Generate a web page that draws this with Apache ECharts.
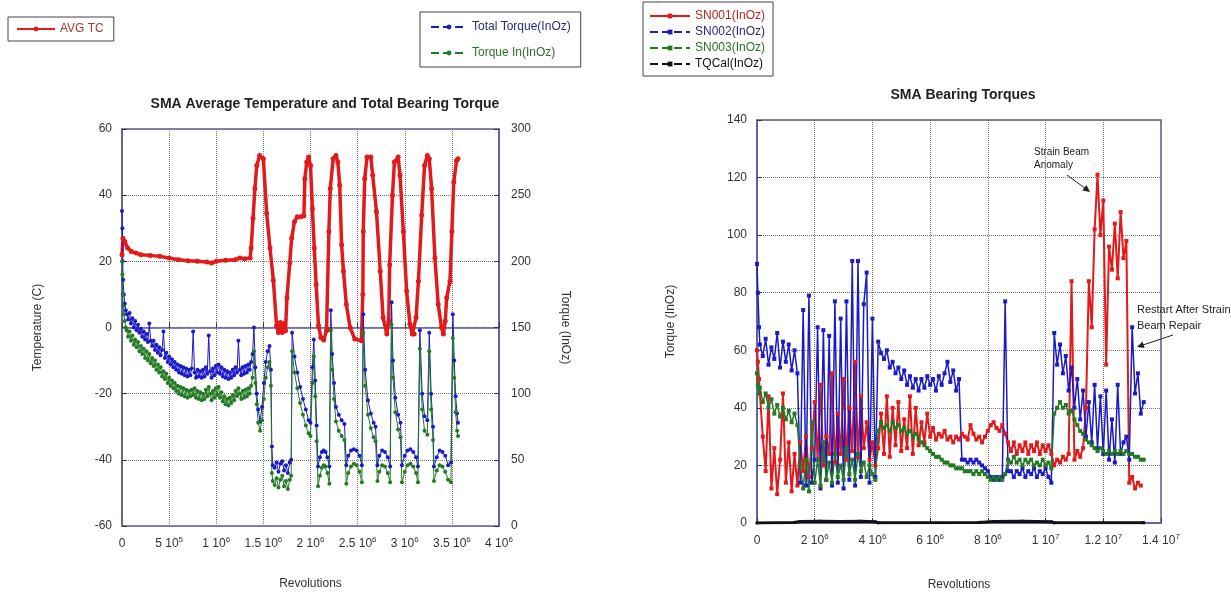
<!DOCTYPE html>
<html>
<head>
<meta charset="utf-8">
<title>SMA Torques</title>
<script src="https://cdn.jsdelivr.net/npm/echarts@6/dist/echarts.min.js"></script>
<style>
  html, body { margin: 0; background: #fff; }
  #chart { width: 1231px; height: 596px; }
</style>
</head>
<body>
<div id="chart"></div>
<script>
// ---- left chart: average temperature (C), x in millions of revolutions
const avgTcX = [0, 0.01, 0.03, 0.06, 0.1, 0.15, 0.2, 0.3, 0.4, 0.5, 0.6, 0.7, 0.8, 0.9, 0.95, 1.0, 1.1, 1.2, 1.25, 1.3,
  1.36, 1.37, 1.39, 1.41, 1.43, 1.46, 1.5, 1.535, 1.57, 1.606, 1.64, 1.66, 1.68, 1.7, 1.72, 1.735, 1.75, 1.78, 1.8, 1.83,
  1.86, 1.9, 1.93, 1.94, 1.96, 1.98, 2.0, 2.02, 2.04, 2.06, 2.085, 2.11, 2.14, 2.17, 2.19, 2.195, 2.21, 2.24, 2.27, 2.29,
  2.31, 2.33, 2.35, 2.38, 2.42, 2.47, 2.54, 2.555, 2.56, 2.575, 2.6, 2.64, 2.66, 2.7, 2.74, 2.77, 2.81, 2.83, 2.84, 2.87,
  2.89, 2.93, 2.95, 2.985, 3.02, 3.055, 3.08, 3.1, 3.12, 3.145, 3.18, 3.21, 3.24, 3.26, 3.285, 3.32, 3.355, 3.39, 3.41, 3.43,
  3.445, 3.48, 3.5, 3.52, 3.55, 3.565];
const avgTc = [22, 27, 26, 24, 23, 22.5, 22, 21.8, 21.5, 21, 20.5, 20.2, 20, 19.8, 19.5, 20, 20.3, 20.5, 21, 20.8,
  21, 24, 33, 42, 49, 52, 51, 34.5, 24, 14.3, 0.5, -1.5, 1.5, -1.5, 1.2, -1, 9, 19.5, 27, 32,
  33.5, 33.5, 33.8, 45, 50, 51.5, 49, 36, 24, 13, 0.5, -3, -3.8, -1, -0.5, 29, 42, 51, 52, 50,
  43, 25, 17, 7, 0, -3.5, -4, 10, 29, 45, 51.5, 51.5, 46, 35, 17, 3, -2, 2, 19, 40,
  50, 51.5, 46, 29, 11, 1, -2, -2, 3, 14, 34, 49, 52, 51, 42, 21, 7, 0, -2, 2,
  9, 14, 29, 44, 50.5, 51];

// ---- left chart: torques (InOz), shared x positions
const torqueX = [0, 0.004, 0.008, 0.012, 0.02, 0.03, 0.04, 0.05, 0.065, 0.08,
  0.095, 0.11, 0.125, 0.14, 0.155, 0.17, 0.185, 0.2, 0.215, 0.23,
  0.245, 0.26, 0.275, 0.29, 0.305, 0.32, 0.335, 0.35, 0.365, 0.38,
  0.395, 0.41, 0.425, 0.44, 0.455, 0.47, 0.485, 0.5, 0.515, 0.53,
  0.545, 0.56, 0.575, 0.59, 0.605, 0.62, 0.635, 0.65, 0.665, 0.68,
  0.695, 0.71, 0.725, 0.74, 0.755, 0.77, 0.785, 0.8, 0.815, 0.83,
  0.845, 0.86, 0.875, 0.89, 0.905, 0.92, 0.935, 0.95, 0.965, 0.98,
  0.995, 1.01, 1.025, 1.04, 1.055, 1.07, 1.085, 1.1, 1.115, 1.13,
  1.145, 1.16, 1.175, 1.19, 1.205, 1.22, 1.235, 1.25, 1.265, 1.28,
  1.295, 1.31, 1.325, 1.34, 1.355, 1.37, 1.385, 1.4, 1.415, 1.43,
  1.445, 1.465, 1.485, 1.505, 1.525, 1.545, 1.565, 1.58, 1.59, 1.6,
  1.62, 1.64, 1.66, 1.68, 1.7, 1.72, 1.74, 1.76, 1.78, 1.795,
  1.805, 1.83, 1.86, 1.89, 1.92, 1.95, 1.98, 2.0, 2.02, 2.035,
  2.05, 2.065, 2.08, 2.1, 2.12, 2.14, 2.16, 2.18, 2.2, 2.215,
  2.23, 2.25, 2.27, 2.3, 2.33, 2.36, 2.38, 2.4, 2.43, 2.46,
  2.49, 2.52, 2.545, 2.56, 2.58, 2.61, 2.64, 2.67, 2.69, 2.71,
  2.73, 2.76, 2.79, 2.82, 2.845, 2.86, 2.875, 2.9, 2.93, 2.955,
  2.97, 3.0, 3.03, 3.06, 3.09, 3.12, 3.14, 3.16, 3.185, 3.21,
  3.24, 3.26, 3.28, 3.3, 3.31, 3.34, 3.37, 3.4, 3.43, 3.46,
  3.49, 3.51, 3.525, 3.54, 3.555, 3.565];
const totalTorque = [238, 225, 200, 186, 175, 168, 163, 160, 156, 161,
  153, 157, 150, 155, 148, 152, 146, 149, 143, 147,
  141, 145, 139, 153, 140, 136, 140, 133, 137, 131,
  135, 129, 133, 147, 127, 131, 124, 128, 122, 126,
  120, 124, 118, 122, 116, 121, 115, 120, 114, 119,
  113, 118, 114, 119, 147, 116, 112, 118, 113, 117,
  112, 118, 113, 120, 115, 144, 117, 112, 119, 114,
  121, 116, 122, 115, 120, 113, 118, 112, 117, 111,
  116, 112, 118, 114, 120, 116, 140, 118, 114, 120,
  115, 121, 116, 122, 118, 124, 130, 150, 120, 100,
  88, 79, 90, 108, 124, 132, 136, 118, 60, 46,
  44, 48, 41, 47, 49, 42, 46, 40, 48, 50,
  146, 128, 116, 105, 96, 88, 80, 78, 120, 141,
  110, 76, 45, 52, 56, 57, 56, 52, 45, 163,
  130, 108, 90, 84, 80, 77, 46, 53, 57, 58,
  57, 53, 46, 160, 118, 95, 85, 78, 75, 46,
  53, 57, 56, 52, 45, 169, 125, 97, 84, 78,
  46, 53, 57, 58, 56, 52, 45, 148, 100, 83,
  80, 146, 100, 75, 45, 52, 57, 56, 53, 46,
  48, 160, 125, 98, 85, 78];
const torqueIn = [200, 190, 175, 166, 160, 155, 150, 148, 143, 147,
  140, 144, 137, 141, 135, 139, 132, 136, 130, 134,
  127, 132, 125, 130, 123, 127, 121, 125, 118, 122,
  116, 120, 113, 117, 111, 115, 108, 112, 106, 110,
  104, 108, 102, 106, 100, 105, 99, 104, 98, 103,
  97, 102, 98, 103, 99, 104, 97, 102, 96, 101,
  95, 100, 96, 103, 98, 105, 100, 95, 102, 97,
  104, 99, 105, 97, 101, 94, 98, 92, 96, 91,
  97, 93, 99, 95, 102, 98, 104, 100, 96, 102,
  97, 103, 98, 104, 100, 106, 112, 132, 108, 92,
  78, 72, 80, 96, 112, 120, 124, 106, 40, 34,
  31, 36, 29, 35, 38, 30, 34, 28, 35, 38,
  132, 116, 104, 93, 84, 76, 70, 68, 108, 128,
  98, 64, 30, 38, 44, 46, 45, 40, 32, 148,
  118, 96, 79, 72, 68, 65, 32, 40, 45, 47,
  46, 41, 33, 146, 106, 84, 74, 67, 64, 34,
  41, 46, 45, 40, 33, 152, 112, 86, 73, 67,
  33, 41, 46, 47, 45, 40, 33, 134, 88, 72,
  69, 132, 88, 65, 34, 42, 46, 45, 41, 35,
  33, 142, 112, 86, 72, 68];

// ---- right chart: bearing torques (InOz), x in millions of revolutions
const rightX = [0, 0.03, 0.07, 0.1, 0.2, 0.3, 0.4, 0.5, 0.6, 0.7, 0.8, 0.9,
  1.0, 1.1, 1.2, 1.3, 1.4, 1.5, 1.6, 1.7, 1.8, 1.9,
  2.0, 2.1, 2.2, 2.3, 2.4, 2.5, 2.6, 2.7, 2.8, 2.9,
  3.0, 3.1, 3.2, 3.3, 3.4, 3.5, 3.6, 3.7, 3.8, 3.9,
  4.0, 4.1, 4.2, 4.3, 4.4, 4.5, 4.6, 4.7, 4.8, 4.9,
  5.0, 5.1, 5.2, 5.3, 5.4, 5.5, 5.6, 5.7, 5.8, 5.9,
  6.0, 6.1, 6.2, 6.3, 6.4, 6.5, 6.6, 6.7, 6.8, 6.9,
  7.0, 7.1, 7.2, 7.3, 7.4, 7.5, 7.6, 7.7, 7.8, 7.9,
  8.0, 8.1, 8.2, 8.3, 8.4, 8.5, 8.6, 8.7, 8.8, 8.9,
  9.0, 9.1, 9.2, 9.3, 9.4, 9.5, 9.6, 9.7, 9.8, 9.9,
  10.0, 10.1, 10.2, 10.3, 10.4, 10.5, 10.6, 10.7, 10.8, 10.9,
  11.0, 11.1, 11.2, 11.3, 11.4, 11.5, 11.6, 11.7, 11.8, 11.9,
  12.0, 12.1, 12.2, 12.3, 12.4, 12.5, 12.6, 12.7, 12.8, 12.9,
  13.0, 13.1, 13.2, 13.3, 13.4];
const sn001 = [60, 56, 50, 45, 30, 18, 44, 12, 26, 10, 22, 45,
  14, 28, 11, 24, 13, 28, 18, 30, 16, 26,
  42, 22, 48, 20, 30, 24, 52, 21, 38, 24,
  50, 22, 40, 25, 56, 23, 44, 26, 35, 22,
  28, 20, 26, 38, 24, 44, 23, 40, 27, 42,
  25, 36, 26, 44, 24, 40, 27, 35, 28, 38,
  30, 33, 29, 31, 30, 32, 29, 30, 28, 30,
  29, 31, 30, 29, 34, 31, 29, 30, 28, 30,
  32, 34, 35, 33, 32, 34, 31, 28, 25, 28,
  24, 27, 25, 28, 24, 27, 25, 28, 24, 27,
  25, 27, 24, 20, 22, 21, 23, 22, 24, 84,
  22, 25, 23, 26, 40, 84, 68, 102, 121, 100,
  112, 55, 96, 88, 104, 85, 108, 92, 98, 14,
  16, 12, 14, 13, null];
const sn002 = [90, 80, 68, 62, 58, 64, 55, 61, 57, 66, 54, 63,
  56, 62, 53, 60, 52, 14, 74, 13, 79, 14,
  22, 68, 12, 67, 15, 65, 13, 77, 14, 71,
  12, 77, 15, 91, 13, 91, 16, 76, 87, 14,
  71, 16, 63, 59, 57, 60, 54, 56, 52, 54,
  50, 53, 48, 51, 47, 50, 46, 50, 47, 51,
  48, 50, 46, 51, 48, 52, 56, 49, 53, 46,
  50, 22, 22, 21, 22, 21, 22, 21, 20, 19,
  18, 16, 15, 16, 15, 16, 77, 18, 18, 16,
  18, 17, 19, 16, 18, 17, 19, 16, 18, 17,
  19, 16, 14, 66, 55, 62, 52, 58, 46, 54,
  40, 50, 36, 46, 30, 42, 28, 48, 26, 44,
  24, 46, 22, 36, 21, 48, 24, 28, 30, 22,
  68, 45, 52, 38, 42];
const sn003 = [52, 48, 45, 47, 42, 45, 40, 43, 38, 41, 37, 40,
  36, 39, 35, 38, 34, 20, 12, 22, 11, 35,
  14, 22, 13, 28, 15, 21, 14, 24, 16, 20,
  15, 26, 17, 22, 15, 24, 18, 21, 16, 20,
  17, 15, 32, 35, 33, 34, 32, 35, 33, 34,
  32, 33, 31, 32, 30, 31, 29, 28, 27, 26,
  25, 24, 23, 23, 22, 21, 21, 20, 20, 19,
  19, 19, 18, 18, 18, 17, 18, 17, 18, 17,
  16, 15, 16, 15, 16, 15, 17, 22, 21, 23,
  21, 22, 20, 22, 21, 22, 20, 21, 20, 22,
  20, 21, 19, 38, 40, 42, 40, 41, 38, 39,
  36, 34, 32, 31, 29, 28, 27, 26, 25, 26,
  25, 24, 25, 24, 25, 24, 25, 24, 25, 24,
  24, 23, 23, 22, 22];
const tqCalX = [0, 1.3, 1.5, 2.2, 2.9, 3.6, 4.1, 4.2, 7.7, 8.2, 9.2, 10.2, 10.3, 13.4];
const tqCal = [0, 0.2, 0.5, 0.6, 0.5, 0.6, 0.4, 0.1, 0.2, 0.5, 0.6, 0.4, 0.1, 0.1];

// tick labels: mantissa|exponent
const leftXTicks = ['0', '5 10|5', '1 10|6', '1.5 10|6', '2 10|6', '2.5 10|6', '3 10|6', '3.5 10|6', '4 10|6'];
const rightXTicks = ['0', '2 10|6', '4 10|6', '6 10|6', '8 10|6', '1 10|7', '1.2 10|7', '1.4 10|7'];

const FONT = '"Liberation Sans", Arial, sans-serif';
const RED = '#e31a1a', BLUE = '#1a1ac8', GREEN = '#237a23';
const FRAME = '#5b5b9e';

function zip(xs, ys) {
  return xs.map((x, i) => [x, ys[i]]);
}

function sciFormatter(ticks, step) {
  return function (value) {
    const t = ticks[Math.round(value / step)] || '';
    const parts = t.split('|');
    if (parts.length < 2) return '{m|' + t + '}';
    return '{m|' + parts[0] + '}{e|' + parts[1] + '}';
  };
}

const sciRich = {
  m: { fontSize: 12, color: '#333', fontFamily: FONT, lineHeight: 16 },
  e: { fontSize: 8, color: '#333', fontFamily: FONT, verticalAlign: 'top', lineHeight: 8 }
};

const dotted = { show: true, lineStyle: { color: '#777', type: 'dotted', width: 1 } };
const tickIn = { show: true, inside: true, length: 5, lineStyle: { color: '#333' } };
const labelStyle = { color: '#333', fontSize: 12, fontFamily: FONT };
const nameStyle = { color: '#333', fontSize: 12, fontFamily: FONT };

const chart = echarts.init(document.getElementById('chart'));

chart.setOption({
  animation: false,
  textStyle: { fontFamily: FONT },
  title: [
    {
      text: 'SMA Average Temperature and Total Bearing Torque',
      left: 320, top: 92, textAlign: 'center',
      textStyle: { fontSize: 14, fontWeight: 'bold', color: '#222', fontFamily: FONT }
    },
    {
      text: 'SMA Bearing Torques',
      left: 958, top: 83, textAlign: 'center',
      textStyle: { fontSize: 14, fontWeight: 'bold', color: '#222', fontFamily: FONT }
    }
  ],
  legend: [
    {
      data: [{ name: 'AVG TC', textStyle: { color: '#b03434' } }],
      left: 8, top: 17, orient: 'vertical',
      borderColor: '#444', borderWidth: 1, padding: [6, 10, 6, 8],
      itemWidth: 38, itemHeight: 6, selectedMode: false,
      textStyle: { fontSize: 12, fontFamily: FONT }
    },
    {
      data: [
        { name: 'Total Torque(InOz)', textStyle: { color: '#2a2a7c' }, lineStyle: { type: 'dashed' } },
        { name: 'Torque In(InOz)', textStyle: { color: '#2f6f2f' }, lineStyle: { type: 'dashed' } }
      ],
      left: 420, top: 12, orient: 'vertical', itemGap: 14,
      borderColor: '#444', borderWidth: 1, padding: [9, 10, 8, 10],
      itemWidth: 36, itemHeight: 6, selectedMode: false,
      textStyle: { fontSize: 12, fontFamily: FONT }
    },
    {
      data: [
        { name: 'SN001(InOz)', textStyle: { color: '#b82424' } },
        { name: 'SN002(InOz)', textStyle: { color: '#2a2a7c' }, lineStyle: { type: 'dashed' } },
        { name: 'SN003(InOz)', textStyle: { color: '#2a702a' }, lineStyle: { type: 'dashed' } },
        { name: 'TQCal(InOz)', textStyle: { color: '#111' }, lineStyle: { type: 'dashed' } }
      ],
      left: 643, top: 2, orient: 'vertical', itemGap: 4,
      borderColor: '#444', borderWidth: 1, padding: [8, 8, 6, 6],
      itemWidth: 40, itemHeight: 6, selectedMode: false,
      textStyle: { fontSize: 12, fontFamily: FONT }
    }
  ],
  grid: [
    { left: 122, top: 129, width: 377, height: 397, show: true, borderColor: FRAME, borderWidth: 1.5 },
    { left: 757, top: 120, width: 404, height: 403, show: true, borderColor: FRAME, borderWidth: 1.5 }
  ],
  xAxis: [
    {
      gridIndex: 0, type: 'value', min: 0, max: 4, interval: 0.5,
      name: 'Revolutions', nameLocation: 'middle', nameGap: 52, nameTextStyle: nameStyle,
      axisLine: { show: true, lineStyle: { color: FRAME, width: 1.5 } },
      axisTick: tickIn, splitLine: dotted,
      axisLabel: { margin: 10, formatter: sciFormatter(leftXTicks, 0.5), rich: sciRich }
    },
    {
      gridIndex: 1, type: 'value', min: 0, max: 14, interval: 2,
      name: 'Revolutions', nameLocation: 'middle', nameGap: 56, nameTextStyle: nameStyle,
      axisLine: { show: true, lineStyle: { color: FRAME, width: 1.5 } },
      axisTick: tickIn, splitLine: dotted,
      axisLabel: { margin: 10, formatter: sciFormatter(rightXTicks, 2), rich: sciRich }
    }
  ],
  yAxis: [
    {
      gridIndex: 0, type: 'value', min: -60, max: 60, interval: 20, position: 'left',
      name: 'Temperature (C)', nameLocation: 'middle', nameGap: 78, nameRotate: 90, nameTextStyle: nameStyle,
      axisLine: { show: true, lineStyle: { color: FRAME, width: 1.5 } },
      axisTick: tickIn, splitLine: dotted,
      axisLabel: Object.assign({ margin: 10 }, labelStyle)
    },
    {
      gridIndex: 0, type: 'value', min: 0, max: 300, interval: 50, position: 'right',
      name: 'Torque (InOz)', nameLocation: 'middle', nameGap: 60, nameRotate: -90, nameTextStyle: nameStyle,
      axisLine: { show: true, lineStyle: { color: FRAME, width: 1.5 } },
      axisTick: tickIn, splitLine: { show: false },
      axisLabel: Object.assign({ margin: 12 }, labelStyle)
    },
    {
      gridIndex: 1, type: 'value', min: 0, max: 140, interval: 20,
      name: 'Torque (InOz)', nameLocation: 'middle', nameGap: 80, nameRotate: 90, nameTextStyle: nameStyle,
      axisLine: { show: true, lineStyle: { color: FRAME, width: 1.5 } },
      axisTick: tickIn, splitLine: dotted,
      axisLabel: Object.assign({ margin: 10 }, labelStyle)
    }
  ],
  series: [
    {
      name: 'AVG TC', type: 'line', xAxisIndex: 0, yAxisIndex: 0,
      data: zip(avgTcX, avgTc), color: RED,
      symbol: 'circle', symbolSize: 5, lineStyle: { width: 3.5, color: RED }
    },
    {
      name: 'Total Torque(InOz)', type: 'line', xAxisIndex: 0, yAxisIndex: 1,
      data: zip(torqueX, totalTorque), color: BLUE,
      symbol: 'circle', symbolSize: 4, lineStyle: { width: 1, color: BLUE }
    },
    {
      name: 'Torque In(InOz)', type: 'line', xAxisIndex: 0, yAxisIndex: 1,
      data: zip(torqueX, torqueIn), color: GREEN,
      symbol: 'circle', symbolSize: 4, lineStyle: { width: 1, color: GREEN }
    },
    {
      name: 'SN001(InOz)', type: 'line', xAxisIndex: 1, yAxisIndex: 2,
      data: zip(rightX, sn001), color: RED,
      symbol: 'rect', symbolSize: 4, lineStyle: { width: 2, color: RED }
    },
    {
      name: 'SN002(InOz)', type: 'line', xAxisIndex: 1, yAxisIndex: 2,
      data: zip(rightX, sn002), color: BLUE,
      symbol: 'rect', symbolSize: 4, lineStyle: { width: 1.5, color: BLUE }
    },
    {
      name: 'SN003(InOz)', type: 'line', xAxisIndex: 1, yAxisIndex: 2,
      data: zip(rightX, sn003), color: GREEN,
      symbol: 'rect', symbolSize: 4, lineStyle: { width: 1.5, color: GREEN }
    },
    {
      name: 'TQCal(InOz)', type: 'line', xAxisIndex: 1, yAxisIndex: 2,
      data: zip(tqCalX, tqCal), color: '#111',
      symbol: 'rect', symbolSize: 3, lineStyle: { width: 3, color: '#111' }
    }
  ],
  graphic: [
    {
      type: 'text', left: 1034, top: 146,
      style: { text: 'Strain Beam\nAnomaly', font: '10px "Liberation Sans", Arial, sans-serif', fill: '#222', lineHeight: 13 }
    },
    { type: 'line', shape: { x1: 1067, y1: 175, x2: 1086, y2: 189 }, style: { stroke: '#222', lineWidth: 1 } },
    { type: 'polygon', shape: { points: [[1090, 192], [1082.3, 190.6], [1086.5, 185]] }, style: { fill: '#222' } },
    {
      type: 'text', left: 1137, top: 302,
      style: { text: 'Restart After Strain\nBeam Repair', font: '11px "Liberation Sans", Arial, sans-serif', fill: '#222', lineHeight: 16 }
    },
    { type: 'line', shape: { x1: 1173, y1: 335, x2: 1142, y2: 345.3 }, style: { stroke: '#222', lineWidth: 1 } },
    { type: 'polygon', shape: { points: [[1137, 347], [1142.5, 341.5], [1144.7, 348.1]] }, style: { fill: '#222' } }
  ]
});
</script>
</body>
</html>
